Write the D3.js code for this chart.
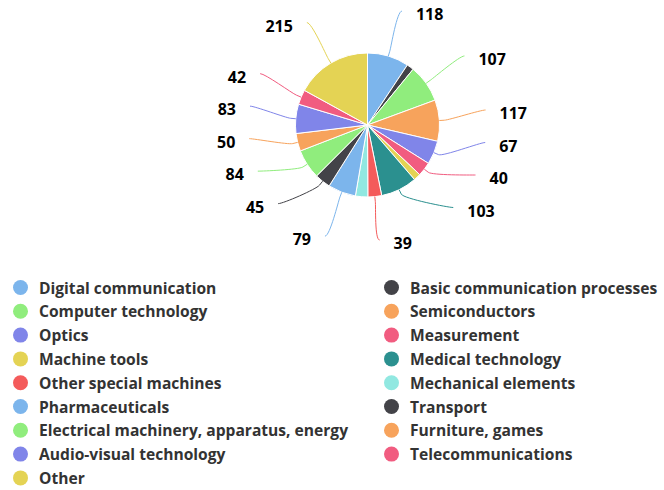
<!DOCTYPE html>
<html>
<head>
<meta charset="utf-8">
<script src="https://cdn.jsdelivr.net/npm/d3@7"></script>
<style>
  body { margin: 0; background: #fff; }
  text { font-family: "Open Sans", sans-serif; }
</style>
</head>
<body>
<svg id="chart" width="664" height="490"></svg>
<script>
// --- DATA ---
const categories = [
    "Digital communication", "Basic communication processes", "Computer technology",
    "Semiconductors", "Optics", "Measurement", "Machine tools", "Medical technology",
    "Other special machines", "Mechanical elements", "Pharmaceuticals", "Transport",
    "Electrical machinery, apparatus, energy", "Furniture, games", "Audio-visual technology",
    "Telecommunications", "Other"
];
const values = [118, 20, 107, 117, 67, 40, 20, 103, 39, 35, 79, 45, 84, 50, 83, 42, 215];
const palette = ["#7cb5ec", "#434348", "#90ed7d", "#f7a35c", "#8085e9",
                 "#f15c80", "#e4d354", "#2b908f", "#f45b5b", "#91e8e1"];

// --- LAYOUT ---
const svg = d3.select("#chart");
const cx = 367.5, cy = 125, radius = 72;
const labelR = 119, slot = 32.5, minY = -115, maxY = 115;

const color = d3.scaleOrdinal(categories, categories.map((c, i) => palette[i % palette.length]));
const data = categories.map((c, i) => ({ name: c, value: values[i] }));
const arcs = d3.pie().value(d => d.value).sort(null)(data);
const arc = d3.arc().innerRadius(0).outerRadius(radius);

const pieG = svg.append("g").attr("transform", `translate(${cx},${cy})`);
pieG.selectAll("path.slice").data(arcs).join("path")
    .attr("class", "slice")
    .attr("d", arc)
    .attr("fill", d => color(d.data.name))
    .attr("stroke", "#fff").attr("stroke-width", 1).attr("stroke-linejoin", "round");

// --- DATA LABELS (distributed per side, smallest dropped when no room) ---
arcs.forEach(d => {
    d.mid = (d.startAngle + d.endAngle) / 2;
    d.left = d.mid > Math.PI;
    d.natX = labelR * Math.sin(d.mid);
    d.natY = -labelR * Math.cos(d.mid);
});

const shown = [];
[false, true].forEach(left => {
    let pts = arcs.filter(d => d.left === left);
    const cap = Math.floor((maxY - minY) / slot);
    if (pts.length > cap) {
        const keep = new Set(pts.slice().sort((a, b) => b.value - a.value).slice(0, cap));
        pts = pts.filter(p => keep.has(p));
    }
    pts.sort((a, b) => a.natY - b.natY);
    let next = maxY + slot;
    for (let i = pts.length - 1; i >= 0; i--) {
        pts[i].ly = Math.min(pts[i].natY, next - slot);
        next = pts[i].ly;
    }
    let prev = minY - slot;
    pts.forEach(p => { p.ly = Math.max(p.ly, prev + slot); prev = p.ly; });
    pts.forEach(p => {
        const s = left ? -1 : 1;
        const onCircle = s * Math.sqrt(Math.max(0, labelR * labelR - p.ly * p.ly));
        if (Math.abs(p.ly) <= 0.8 * labelR) p.lx = onCircle;
        else if (p.ly < 0) p.lx = (onCircle + p.natX) / 2;
        else p.lx = p.natX;
        shown.push(p);
    });
});

const labelG = svg.append("g").attr("transform", `translate(${cx},${cy})`);
labelG.selectAll("path.connector").data(shown).join("path")
    .attr("class", "connector")
    .attr("fill", "none")
    .attr("stroke", d => color(d.data.name))
    .attr("stroke-width", 1)
    .attr("d", d => {
        const s = d.left ? -1 : 1;
        const dx = Math.sin(d.mid), dy = -Math.cos(d.mid);
        const ex = radius * dx, ey = radius * dy;
        const bx = (radius + 5) * dx, by = (radius + 5) * dy;
        const kx = (radius + 10) * dx, ky = (radius + 10) * dy;
        return `M${d.lx},${d.ly} C${d.lx - 5 * s},${d.ly} ${kx},${ky} ${bx},${by} L${ex},${ey}`;
    });

labelG.selectAll("text.value").data(shown).join("text")
    .attr("class", "value")
    .attr("x", d => d.lx + (d.left ? -14 : 14))
    .attr("y", d => d.ly + 3)
    .attr("dominant-baseline", "central")
    .attr("text-anchor", d => d.left ? "end" : "start")
    .style("font-size", "16px").style("font-weight", "700").style("fill", "#000")
    .text(d => d.value);

// --- LEGEND ---
const legendCols = [20.5, 391.5];
const legendTop = 287.5, rowH = 23.8;
const items = svg.append("g").selectAll("g.legend-item").data(categories).join("g")
    .attr("class", "legend-item")
    .attr("transform", (d, i) => `translate(${legendCols[i % 2]},${legendTop + Math.floor(i / 2) * rowH})`);
items.append("circle").attr("r", 7.5).attr("fill", d => color(d));
items.append("text")
    .attr("x", 18.5)
    .attr("dominant-baseline", "central")
    .style("font-size", "15.6px").style("font-weight", "700").style("fill", "#333")
    .text(d => d);
</script>
</body>
</html>
